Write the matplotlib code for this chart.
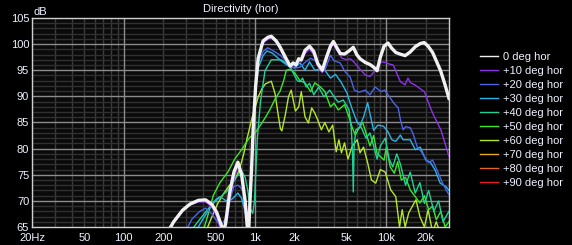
import matplotlib
matplotlib.use('Agg')
import matplotlib.pyplot as plt
from matplotlib.lines import Line2D

plt.rcParams['font.family'] = ['Liberation Sans', 'DejaVu Sans']

# ---- data (Hz, dB) ----
deg0_f = [210, 240, 280, 320, 370, 420, 470, 510, 545, 570, 595, 640, 690, 740, 790, 840,
          870, 890, 915, 940, 968, 1010, 1056, 1150, 1250, 1330, 1450, 1554, 1700, 1850, 1950, 2050,
          2150, 2250, 2400, 2600, 2800, 3000, 3250, 3500, 3750, 3950, 4200, 4450, 4800, 5200, 5600, 5950,
          6300, 6900, 7500, 8000, 8500, 9000, 9600, 10300, 11000, 11800, 12700, 13900, 15200, 16600, 18100,
          19400, 20800, 22500, 24000, 25800, 28000, 30000]
deg0_db = [63.5, 66.0, 68.2, 69.4, 70.1, 70.2, 69.3, 67.8, 65.8, 64.3, 65.5, 71.5, 75.5, 77.4, 75.0, 70.0,
           65.5, 63.0, 70.0, 76.0, 84.0, 92.0, 97.3, 100.6, 101.3, 101.5, 100.6, 99.4, 97.5, 95.8, 96.4, 96.0,
           97.2, 97.0, 98.8, 99.6, 98.6, 96.3, 95.0, 97.5, 99.6, 100.5, 99.3, 98.2, 98.1, 98.7, 99.4, 98.0,
           97.2, 96.5, 96.1, 95.6, 94.9, 97.5, 99.6, 100.2, 99.2, 98.4, 98.1, 97.8, 98.5, 99.5, 100.1,
           100.3, 99.6, 98.4, 96.8, 95.0, 92.2, 89.6]

deg10_f = [210, 240, 280, 320, 370, 420, 470, 510, 540, 575, 610, 650, 700, 745, 790, 835,
           860, 885, 910, 935, 962, 1005, 1050, 1150, 1250, 1330, 1450, 1554, 1700, 1850, 1950,
           2050, 2150, 2250, 2400, 2600, 2800, 3000, 3250, 3500, 3750, 3950, 4200, 4600, 5000, 5300, 5700,
           6300, 6900, 7500, 8000, 8500, 9200, 9800, 10500, 11300, 12000, 12800, 13900, 14600, 15300, 16500,
           18000, 19500, 21000, 22500, 24500, 26000, 28000, 30000]
deg10_db = [63.3, 65.8, 68.0, 69.2, 69.8, 69.8, 68.8, 67.0, 64.8, 63.5, 66.0, 71.0, 74.8, 76.6, 74.5, 69.5,
            64.5, 62.5, 69.0, 75.5, 83.5, 91.5, 96.8, 100.2, 100.9, 101.2, 100.3, 99.0, 97.2, 95.6, 96.0,
            95.8, 96.8, 96.6, 98.2, 99.0, 98.0, 95.8, 94.5, 97.0, 99.2, 100.0, 98.8, 97.3, 97.0, 97.2, 96.5,
            95.2, 94.1, 93.8, 94.6, 95.7, 96.6, 96.5, 96.2, 96.0, 94.4, 92.8, 92.2, 93.5, 92.6, 92.2,
            91.5, 90.9, 88.7, 86.8, 84.9, 83.6, 81.0, 78.5]

deg20_f = [300, 330, 380, 420, 470, 520, 560, 600, 640, 690, 740, 780, 830,
           865, 885, 910, 940, 970, 1010, 1060, 1150, 1250, 1400, 1554, 1700, 1800,
           2000, 2200, 2400, 2650, 2900, 3100, 3400, 3750, 4000, 4450, 4850, 5300, 5700, 6200, 6900, 7500,
           8200, 8600, 9100, 9700, 10700, 11400, 12300, 12800, 13400, 14000, 15200, 16000, 17200, 18500,
           19500, 21000, 22500, 24800, 26800, 29000, 30000]
deg20_db = [64.5, 66.5, 68.0, 68.6, 67.5, 65.8, 65.5, 66.8, 70.0, 72.8, 73.0, 72.5, 71.2,
            66.0, 63.0, 70.0, 78.0, 85.0, 92.0, 96.5, 98.6, 99.3, 98.6, 97.9, 96.9, 96.0,
            95.4, 95.6, 96.5, 97.3, 96.8, 96.0, 95.0, 97.9, 96.8, 96.4, 94.7, 93.7, 91.2, 90.8, 91.2, 90.3,
            91.8, 91.4, 90.9, 91.2, 89.7, 88.7, 87.8, 85.5, 83.6, 84.2, 84.0, 82.8, 80.3, 79.4,
            78.4, 77.3, 77.8, 75.4, 73.4, 71.8, 71.2]

deg30_f = [360, 400, 450, 500, 540, 580, 620, 680, 740, 790, 840,
           880, 905, 930, 960, 1000, 1060, 1150, 1230, 1350, 1580, 1750,
           1850, 2000, 2200, 2400, 2600, 2850, 3100, 3400, 3750, 4100, 4500, 5000, 5500, 6000, 6300, 6700,
           7200, 7600, 8000, 8600, 9500, 10300, 11000, 11800, 12800, 13400, 15200, 16600, 18100, 20000,
           21600, 23500, 25700, 28500, 30000]
deg30_db = [64.5, 66.5, 68.5, 70.2, 70.8, 70.3, 69.8, 70.5, 71.5, 70.5, 68.0,
            66.0, 68.0, 75.0, 83.0, 90.0, 95.5, 97.8, 98.7, 98.3, 96.8, 96.0,
            95.6, 95.5, 96.4, 95.0, 96.6, 95.0, 95.2, 95.0, 93.5, 94.2, 92.8, 90.7, 87.5, 85.0, 84.5, 86.0,
            88.8, 86.0, 83.5, 84.5, 84.3, 83.2, 81.7, 81.4, 82.6, 81.7, 81.7, 79.8, 80.3, 77.8,
            77.4, 75.9, 73.4, 72.7, 72.0]

deg40_f = [330, 380, 440, 500, 560, 620, 680, 740, 790, 840, 880, 920, 960, 990,
           1041, 1100, 1190, 1330, 1580, 1850,
           1950, 2100, 2200, 2300, 2450, 2600, 2800, 3050, 3350, 3700, 4000, 4300, 4700, 5200, 5400, 5520,
           5600, 5680, 5850, 6400, 7000, 7500, 8000, 8500, 9000, 9800, 10500, 11200, 12000, 12800, 14000,
           15200, 16600, 18000, 19500, 21000, 23000, 25000, 27000, 30000]
deg40_db = [64.5, 66.5, 68.5, 70.0, 71.0, 72.0, 73.5, 75.0, 75.8, 74.5, 72.0, 68.5, 67.6, 70.0,
            82.0, 89.0, 94.9, 97.0, 97.0, 95.8,
            94.5, 93.0, 92.8, 93.5, 91.8, 92.5, 90.3, 91.8, 89.9, 91.2, 89.9, 88.9, 89.3, 87.4, 84.0, 79.5,
            71.7, 80.3, 83.6, 84.2, 82.0, 83.0, 80.5, 78.0, 80.5, 82.0, 78.0, 76.5, 79.0, 77.0, 73.0,
            75.5, 71.5, 73.5, 69.5, 72.0, 68.0, 70.0, 66.0, 68.0]

deg50_f = [400, 440, 480, 540, 620, 700, 800, 900, 1000, 1100, 1200, 1300, 1420, 1550, 1650, 1730, 1850, 2000,
           2200, 2400, 2650, 2850, 3150, 3400, 3750, 4000, 4300, 4800, 5200, 5500, 5800, 6200, 6600, 7000,
           7500, 8000, 8500, 9000, 9600, 10000, 10700, 11500, 12200, 13000, 14000, 15200, 16600, 18000,
           19500, 21000, 22500, 24000, 26000, 28000, 30000]
deg50_db = [64.0, 67.5, 71.0, 73.5, 75.5, 78.0, 80.0, 82.0, 83.0, 84.5, 86.0, 87.5, 89.5, 91.0, 93.0, 95.0, 95.2,
            94.5, 93.0, 92.6, 90.9, 92.6, 91.8, 90.9, 88.0, 88.7, 87.4, 88.4, 86.0, 84.0, 82.6, 84.0, 85.0,
            83.0, 80.5, 82.5, 79.0, 78.5, 77.8, 80.3, 76.5, 75.3, 77.5, 74.0, 74.5, 72.1, 70.8, 69.6,
            71.0, 68.3, 69.0, 66.4, 68.0, 65.0, 66.0]

deg60_f = [420, 470, 520, 580, 640, 700, 760, 820, 870, 910, 950, 1000, 1060, 1130, 1200, 1330, 1420, 1500,
           1560, 1600, 1700, 1800, 1885, 2030, 2150, 2250, 2400, 2550, 2700, 2850, 3000, 3200, 3400, 3650,
           3900, 4150, 4350, 4550, 4800, 5100, 5500, 6000, 6300, 6700, 7200, 7700, 8300, 9000, 9800, 10800,
           11800, 12600, 13200, 13900, 14800, 15800, 16800, 18000, 19500, 20800, 22500, 24000, 26000, 28000,
           30000]
deg60_db = [64.0, 67.0, 69.5, 71.5, 73.0, 74.0, 76.0, 79.0, 82.0, 84.0, 86.0, 87.8, 90.0, 91.5, 92.4, 92.9,
            90.5, 86.5, 83.8, 83.4, 86.5, 90.0, 91.2, 87.2, 88.0, 90.9, 86.1, 84.9, 87.8, 86.8, 85.5, 83.6,
            85.0, 83.2, 84.5, 79.4, 81.7, 79.2, 81.1, 78.0, 80.5, 81.7, 79.2, 80.3, 77.3, 74.0, 73.4, 76.0,
            75.5, 72.1, 70.8, 65.0, 68.3, 65.0, 67.7, 69.0, 70.2, 67.0, 65.0, 68.3, 64.0, 66.0, 63.5, 64.5,
            63.0]

labels = ['0 deg hor', '+10 deg hor', '+20 deg hor', '+30 deg hor', '+40 deg hor',
          '+50 deg hor', '+60 deg hor', '+70 deg hor', '+80 deg hor', '+90 deg hor']
colors = ['#f0f0f0', '#8c32e6', '#4c64e6', '#28b4e6', '#1ed296',
          '#3ce628', '#b4e628', '#e6aa1e', '#e6641e', '#e61e1e']
# 70..90 deg lie below the 65 dB floor, so they only appear in the legend
curves = [(deg0_f, deg0_db), (deg10_f, deg10_db), (deg20_f, deg20_db), (deg30_f, deg30_db),
          (deg40_f, deg40_db), (deg50_f, deg50_db), (deg60_f, deg60_db)]

xticks = [20, 50, 100, 200, 500, 1000, 2000, 5000, 10000, 20000]
xticklabels = ['20Hz', '50', '100', '200', '500', '1k', '2k', '5k', '10k', '20k']
yticks = [65, 70, 75, 80, 85, 90, 95, 100, 105]

txt = '#eef2ff'

fig = plt.figure(figsize=(5.72, 2.45), dpi=100, facecolor='black')
ax = fig.add_axes([32 / 572, 1 - 227 / 245, 417 / 572, 209 / 245])
ax.set_facecolor('#0a0a0a')
ax.set_xscale('log')
ax.set_xlim(20, 30000)
ax.set_ylim(65, 105)

# grid
for dec in [10, 100, 1000, 10000]:
    for m in range(2, 10):
        if dec * m < 30000:
            ax.axvline(dec * m, color='#3a3a3a', lw=1, zorder=0)
for dec in [100, 1000, 10000]:
    ax.axvline(dec, color='#8c8c8c', lw=1, zorder=0.5)
for v in range(66, 105):
    ax.axhline(v, color='#8c8c8c' if v % 5 == 0 else '#303030', lw=1, zorder=0.5 if v % 5 == 0 else 0)

for i in range(len(curves) - 1, -1, -1):
    f, db = curves[i]
    ax.plot(f, db, color=colors[i], lw=2.4 if i == 0 else 1.0, zorder=3, solid_joinstyle='round')

ax.set_xticks(xticks)
ax.set_xticklabels(xticklabels)
ax.xaxis.set_minor_locator(matplotlib.ticker.NullLocator())
ax.set_yticks(yticks)
ax.tick_params(length=0, colors=txt, labelsize=8)
ax.tick_params(axis='x', pad=4)
ax.tick_params(axis='y', pad=2)
for s in ax.spines.values():
    s.set_color('#d0d0d0')
    s.set_linewidth(1)

fig.text(240.5 / 572, 1 - 11.7 / 245, 'Directivity (hor)', color=txt, fontsize=8, ha='center', va='baseline')
fig.text(34 / 572, 1 - 15 / 245, 'dB', color=txt, fontsize=8, ha='left', va='baseline')

handles = [Line2D([], [], color=c, lw=1) for c in colors]
fig.legend(handles, labels, loc='upper left', bbox_to_anchor=(480 / 572, 1 - 52 / 245),
           frameon=False, fontsize=8, labelcolor=txt, handlelength=1.6, handletextpad=0.45,
           labelspacing=0.36, borderpad=0, borderaxespad=0)

fig.savefig('out.png', dpi=100, facecolor='black')
